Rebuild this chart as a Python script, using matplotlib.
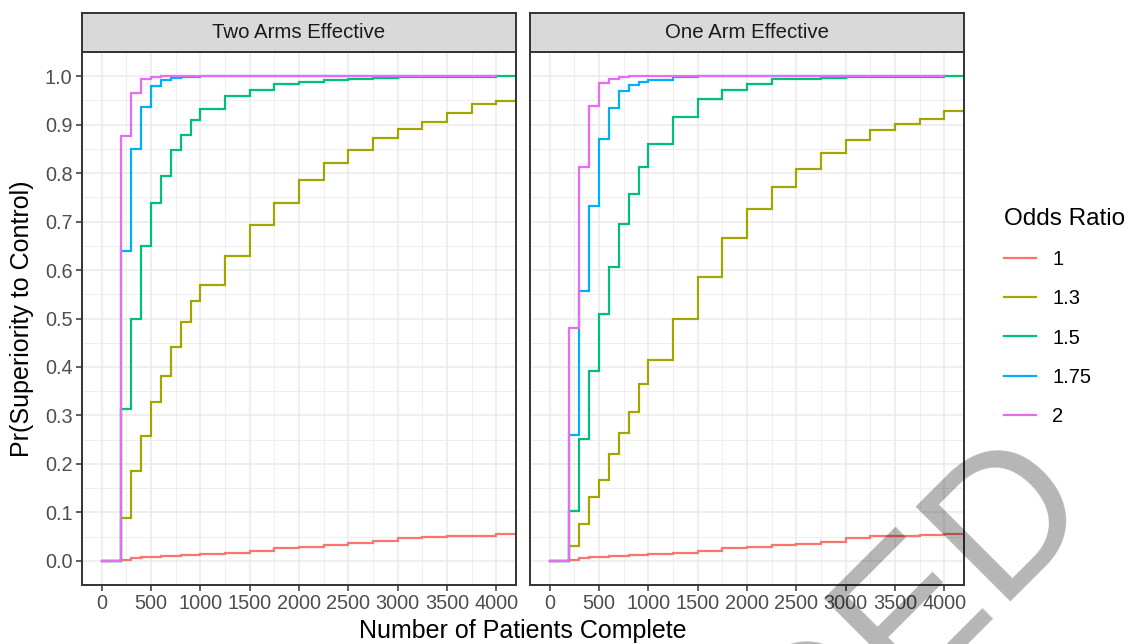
"""Two-panel step chart: Pr(superiority to control) vs. patients complete."""

import matplotlib.pyplot as plt
from matplotlib.lines import Line2D
from matplotlib.ticker import FixedLocator, MultipleLocator

plt.rcParams["font.family"] = ["Liberation Sans", "DejaVu Sans"]

# analysis points (patients complete)
patients = [0, 200, 300, 400, 500, 600, 700, 800, 900, 1000, 1250, 1500,
            1750, 2000, 2250, 2500, 2750, 3000, 3250, 3500, 3750, 4000, 4250]

odds_ratios = ["1", "1.3", "1.5", "1.75", "2"]
colors = ["#F8766D", "#A3A500", "#00BF7D", "#00B0F6", "#E76BF3"]

facets = ["Two Arms Effective", "One Arm Effective"]

# Two Arms Effective
two_or_1 = [0, .002, .005, .007, .008, .009, .010, .011, .012, .014, .016, .020,
            .026, .029, .033, .036, .040, .048, .050, .051, .052, .055, .055]
two_or_13 = [0, .088, .186, .258, .327, .381, .441, .493, .536, .570, .630, .693,
             .738, .785, .821, .848, .872, .891, .905, .924, .942, .949, .949]
two_or_15 = [0, .313, .500, .650, .739, .795, .847, .878, .910, .932, .959, .971,
             .983, .988, .992, .995, .997, .998, .999, .999, .999, 1.0, 1.0]
two_or_175 = [0, .640, .849, .937, .980, .992, .996, .998, .999, 1.0, 1.0, 1.0,
              1.0, 1.0, 1.0, 1.0, 1.0, 1.0, 1.0, 1.0, 1.0, 1.0]
two_or_2 = [0, .877, .966, .994, .999, 1.0, 1.0, 1.0, 1.0, 1.0, 1.0, 1.0,
            1.0, 1.0, 1.0, 1.0, 1.0, 1.0, 1.0, 1.0, 1.0, 1.0]

# One Arm Effective
one_or_1 = [0, .002, .005, .007, .008, .009, .010, .011, .012, .014, .016, .020,
            .026, .029, .032, .035, .038, .048, .051, .052, .053, .056, .056]
one_or_13 = [0, .030, .076, .131, .167, .220, .263, .307, .364, .414, .498, .585,
             .666, .725, .771, .809, .842, .868, .888, .902, .912, .928, .928]
one_or_15 = [0, .103, .251, .392, .509, .607, .696, .756, .813, .860, .915, .954,
             .972, .983, .994, .995, .997, .998, .999, .999, .999, 1.0, 1.0]
one_or_175 = [0, .260, .557, .733, .870, .935, .970, .981, .988, .992, .998, 1.0,
              1.0, 1.0, 1.0, 1.0, 1.0, 1.0, 1.0, 1.0, 1.0, 1.0]
one_or_2 = [0, .481, .812, .939, .986, .995, .999, 1.0, 1.0, 1.0, 1.0, 1.0,
            1.0, 1.0, 1.0, 1.0, 1.0, 1.0, 1.0, 1.0, 1.0, 1.0]

panel_series = [
    [two_or_1, two_or_13, two_or_15, two_or_175, two_or_2],
    [one_or_1, one_or_13, one_or_15, one_or_175, one_or_2],
]

W, H = 1129, 644
fig = plt.figure(figsize=(W / 100, H / 100), dpi=100)

GRID = "#EBEBEB"
BORDER = "#333333"
LW = 1.6
panel_left = [82, 530]
panel_w = 434
top, bottom, strip_top = 52, 585, 13

for i, (title, series) in enumerate(zip(facets, panel_series)):
    x0 = panel_left[i]
    ax = fig.add_axes([x0 / W, 1 - bottom / H, panel_w / W, (bottom - top) / H])
    for vals, col in zip(series, colors):
        ax.plot(patients[:len(vals)], vals, drawstyle="steps-post",
                color=col, lw=LW, solid_joinstyle="miter")
    ax.set_xlim(-200, 4200)
    ax.set_ylim(-0.05, 1.05)
    ax.xaxis.set_major_locator(MultipleLocator(500))
    ax.xaxis.set_minor_locator(FixedLocator(range(250, 4250, 500)))
    ax.yaxis.set_major_locator(MultipleLocator(0.1))
    ax.yaxis.set_minor_locator(FixedLocator([0.05 + 0.1 * k for k in range(10)]))
    ax.grid(which="major", color=GRID, lw=1.1)
    ax.grid(which="minor", color=GRID, lw=0.55)
    ax.set_axisbelow(True)
    ax.tick_params(which="major", direction="out", length=4.3, width=1.1,
                   color=BORDER, labelcolor="#4D4D4D", labelsize=14.3, pad=2.5)
    ax.tick_params(which="minor", length=0)
    ax.set_yticks([k / 10 for k in range(11)])
    ax.set_yticklabels([f"{k / 10:.1f}" for k in range(11)])
    if i == 1:
        ax.tick_params(axis="y", which="both", left=False, labelleft=False)
    for sp in ax.spines.values():
        sp.set_color(BORDER)
        sp.set_linewidth(1.4)

    sax = fig.add_axes([x0 / W, 1 - top / H, panel_w / W, (top - strip_top) / H])
    sax.set_facecolor("#D9D9D9")
    sax.set_xticks([])
    sax.set_yticks([])
    for sp in sax.spines.values():
        sp.set_color(BORDER)
        sp.set_linewidth(1.4)
    sax.text(0.5, 0.5, title, transform=sax.transAxes, ha="center", va="center",
             fontsize=14.7, color="#1A1A1A")

fig.text(22 / W, 1 - 318.5 / H, "Pr(Superiority to Control)", rotation=90,
         ha="center", va="center", fontsize=18)
fig.text(523 / W, 1 - 631 / H, "Number of Patients Complete",
         ha="center", va="center", fontsize=18)

handles = [Line2D([], [], color=c, lw=LW) for c in colors]
leg = fig.legend(handles, odds_ratios, title="Odds Ratio", loc="upper left",
                 bbox_to_anchor=(986 / W, 1 - 190 / H), frameon=False,
                 fontsize=14.5, title_fontsize=17.5, handlelength=1.6,
                 handletextpad=0.8, labelspacing=1.0)
leg._legend_box.align = "left"

# watermark
fig.text(1097 / W, 1 - 507 / H, "SUPERSEDED", rotation=45, rotation_mode="anchor",
         ha="right", va="baseline", fontsize=140, color="black", alpha=0.29,
         zorder=10)

fig.savefig("out.png", dpi=100)
